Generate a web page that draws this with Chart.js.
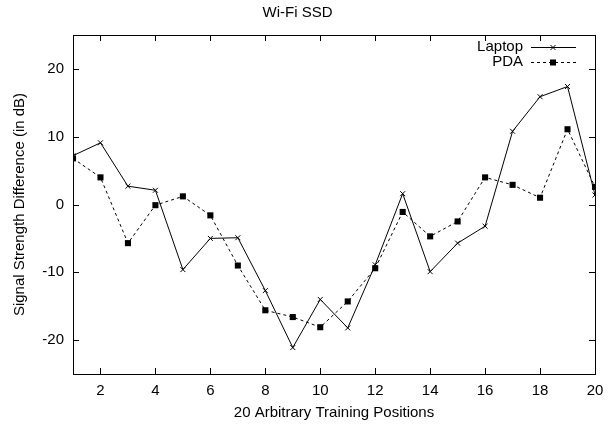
<!DOCTYPE html>
<html><head><meta charset="utf-8">
<script src="https://cdn.jsdelivr.net/npm/chart.js@4/dist/chart.umd.min.js"></script>
<style>html,body{margin:0;padding:0;background:#fff}#wrap{width:613px;height:426px}</style>
</head><body><div id="wrap"><canvas id="c"></canvas></div>
<script>
const positions = [1,2,3,4,5,6,7,8,9,10,11,12,13,14,15,16,17,18,19,20];
const laptop = [7.2,9.1,2.7,2.1,-9.6,-5.0,-4.9,-12.7,-21.1,-14.0,-18.2,-8.9,1.6,-9.9,-5.7,-3.2,10.8,15.9,17.4,1.4];
const pda = [6.8,4.0,-5.7,-0.1,1.2,-1.6,-9.0,-15.6,-16.6,-18.1,-14.3,-9.4,-1.1,-4.7,-2.5,4.0,2.9,1.0,11.1,2.6];
const xTicks = [2,4,6,8,10,12,14,16,18,20];
const yTicks = [-20,-10,0,10,20];
const FONT = "'Liberation Sans', Arial, sans-serif";
const FS = 15;

const frame = {
  id: 'frame',
  afterDraw(chart) {
    const {ctx, chartArea: a, scales} = chart;
    ctx.save();
    ctx.strokeStyle = '#000'; ctx.lineWidth = 1;
    ctx.strokeRect(Math.round(a.left)+0.5, Math.round(a.top)+0.5, Math.round(a.right-a.left), Math.round(a.bottom-a.top));
    const L = 6;
    ctx.beginPath();
    xTicks.forEach(v => {
      const px = Math.round(scales.x.getPixelForValue(v)) + 0.5;
      ctx.moveTo(px, a.bottom); ctx.lineTo(px, a.bottom - L);
      ctx.moveTo(px, a.top); ctx.lineTo(px, a.top + L);
    });
    yTicks.forEach(v => {
      const py = Math.round(scales.y.getPixelForValue(v)) + 0.5;
      ctx.moveTo(a.left, py); ctx.lineTo(a.left + L, py);
      ctx.moveTo(a.right, py); ctx.lineTo(a.right - L, py);
    });
    ctx.stroke();
    // legend
    ctx.font = FS + 'px ' + FONT;
    ctx.fillStyle = '#000';
    ctx.textAlign = 'right'; ctx.textBaseline = 'middle';
    const tx = 523, sx0 = 531, sx1 = 576, mx = 553;
    const rows = [{t:'Laptop', y:47, dash:[], pt:'x'}, {t:'PDA', y:62, dash:[3,3], pt:'s'}];
    rows.forEach(r => {
      ctx.fillText(r.t, tx, r.y);
      ctx.setLineDash(r.dash);
      ctx.beginPath(); ctx.moveTo(sx0, r.y+0.5); ctx.lineTo(sx1, r.y+0.5); ctx.stroke();
      ctx.setLineDash([]);
      if (r.pt === 'x') {
        ctx.beginPath(); ctx.moveTo(mx-2.5, r.y-2); ctx.lineTo(mx+2.5, r.y+3); ctx.moveTo(mx+2.5, r.y-2); ctx.lineTo(mx-2.5, r.y+3); ctx.stroke();
      } else {
        ctx.fillRect(mx-3, r.y-2.5, 6, 6);
      }
    });
    ctx.restore();
  }
};

new Chart(document.getElementById('c'), {
  type: 'line',
  data: {
    datasets: [
      { label: 'Laptop', data: positions.map((x,i)=>({x, y: laptop[i]})), borderColor:'#000', backgroundColor:'#000', borderWidth:1,
        pointStyle:'crossRot', pointRadius:3.5, pointBorderWidth:1, tension:0 },
      { label: 'PDA', data: positions.map((x,i)=>({x, y: pda[i]})), borderColor:'#000', backgroundColor:'#000', borderWidth:1, borderDash:[3,3],
        pointStyle:'rect', pointRadius:4.3, pointBorderWidth:0, tension:0 }
    ]
  },
  options: {
    responsive: true, maintainAspectRatio: false, animation: false,
    layout: { padding: { left: 0, right: 18, top: 0, bottom: 0 } },
    plugins: {
      legend: { display: false }, tooltip: { enabled: false },
      title: { display: true, text: 'Wi-Fi SSD', color:'#000', font: { family: FONT, size: FS, weight: 'normal' }, padding: { top: 3.5, bottom: 13.5 } }
    },
    scales: {
      x: { type: 'linear', min: 1, max: 20,
        afterBuildTicks: s => { s.ticks = xTicks.map(v => ({value: v})); },
        grid: { display: false, tickLength: 0 }, border: { display: true, color: '#000' },
        ticks: { color: '#000', padding: 8, maxRotation: 0, autoSkip: false, font: { family: FONT, size: FS } },
        title: { display: true, text: '20 Arbitrary Training Positions', color:'#000', font: { family: FONT, size: FS }, padding: {top: 4, bottom: 4} },
        afterFit: s => { s.height = 52; }
      },
      y: { type: 'linear', min: -25, max: 25,
        afterBuildTicks: s => { s.ticks = yTicks.map(v => ({value: v})); },
        grid: { display: false, tickLength: 0 }, border: { display: true, color: '#000' },
        ticks: { color: '#000', padding: 9, font: { family: FONT, size: FS } },
        title: { display: true, text: 'Signal Strength Difference (in dB)', color:'#000', font: { family: FONT, size: FS }, padding: {top: 11, bottom: 4} },
        afterFit: s => { s.width = 73; }
      }
    }
  },
  plugins: [frame]
});
</script></body></html>
